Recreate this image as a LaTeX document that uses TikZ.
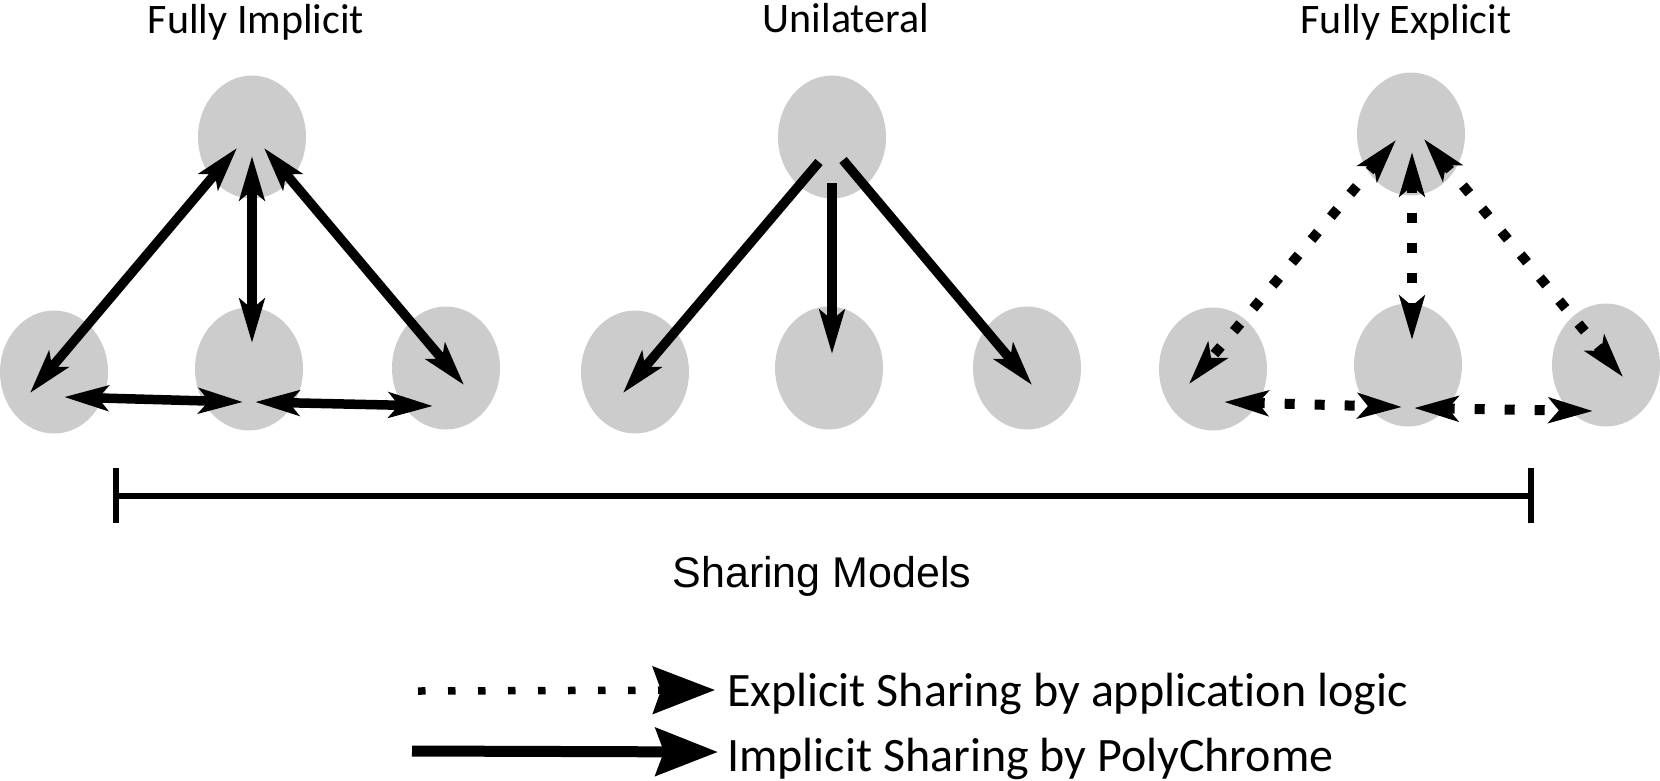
\documentclass[tikz,border=0pt]{standalone}
\usepackage{fontspec}
\setmainfont{Carlito}[Ligatures=NoCommon]
\newfontfamily\arialf{Liberation Sans}
\usetikzlibrary{arrows.meta,shapes.geometric}
\definecolor{blobgray}{RGB}{204,204,204}
\begin{document}
\begin{tikzpicture}[x=1pt,y=-1pt,
  >={Stealth[length=44pt,width=25pt,inset=10pt]},
  blob/.style={ellipse, fill=blobgray, minimum width=108pt, minimum height=123pt, inner sep=0pt},
  ttl/.style={anchor=base, inner sep=0pt, font=\fontsize{42}{50}\selectfont},
  lgd/.style={anchor=base west, inner sep=0pt, font=\fontsize{48}{58}\selectfont},
  implink/.style={line width=9.5pt},
  explink/.style={line width=10pt, dash pattern=on 10pt off 20pt},
  barline/.style={line width=6pt}
]
\useasboundingbox (0,0) rectangle (1660,780);

% titles
\node[ttl] (ttlA) at (256,33) {Fully Implicit};
\node[ttl] (ttlB) at (846,32) {Unilateral};
\node[ttl] (ttlC) at (1406,33) {Fully Explicit};

% Fully Implicit
\node[blob] (fiT) at (252,137) {};
\node[blob] (fiL) at (54,372) {};
\node[blob] (fiM) at (249,369) {};
\node[blob] (fiR) at (446,368) {};
\draw[implink,<->] ([shift={(-15,11)}]fiT.center) -- ([shift={(-24,21)}]fiL.center);
\draw[implink,<->] ([shift={(0,19)}]fiT.center) -- ([shift={(3,-26)}]fiM.center);
\draw[implink,<->] ([shift={(12,11)}]fiT.center) -- ([shift={(18,17)}]fiR.center);
\draw[implink,<->] ([shift={(10,25)}]fiL.center) -- ([shift={(-6,33)}]fiM.center);
\draw[implink,<->] ([shift={(6,33)}]fiM.center) -- ([shift={(-13,38)}]fiR.center);

% Unilateral
\node[blob] (unT) at (832,137) {};
\node[blob] (unL) at (635,372) {};
\node[blob] (unM) at (829,368) {};
\node[blob] (unR) at (1027,368) {};
\draw[implink,->] ([shift={(-13,25)}]unT.center) -- ([shift={(-12,21)}]unL.center);
\draw[implink,->] ([shift={(0,46)}]unT.center) -- ([shift={(3,-14)}]unM.center);
\draw[implink,->] ([shift={(11,23)}]unT.center) -- ([shift={(5,17)}]unR.center);

% Fully Explicit
\node[blob] (feT) at (1411,134) {};
\node[blob] (feL) at (1213,369) {};
\node[blob] (feM) at (1408,365) {};
\node[blob] (feR) at (1606,365) {};
\draw[explink,<->] ([shift={(-15,6)}]feT.center) -- ([shift={(-24,15)}]feL.center);
\draw[explink,<->] ([shift={(1,18)}]feT.center) -- ([shift={(4,-25)}]feM.center);
\draw[explink,<->] ([shift={(13,5)}]feT.center) -- ([shift={(17,12)}]feR.center);
\draw[explink,<->] ([shift={(11,33)}]feL.center) -- ([shift={(-6,42)}]feM.center);
\draw[explink,<->] ([shift={(6,43)}]feM.center) -- ([shift={(-13,46)}]feR.center);

% scale bar
\coordinate (sbL) at (116,496);
\coordinate (sbR) at (1531,496);
\draw[barline] (sbL) -- (sbR);
\draw[barline] (116,468) -- (116,523);
\draw[barline] (1531,468) -- (1531,523);
\node[anchor=base, inner sep=0pt, font=\arialf\fontsize{43}{50}\selectfont] (sm) at (822,587) {Sharing Models};

% legend
\node[lgd] (lgE) at (727,706) {Explicit Sharing by application logic};
\node[lgd] (lgI) at (727,771) {Implicit Sharing by PolyChrome};
\coordinate (leA) at (418,691);
\coordinate (leB) at (715,690);
\coordinate (liA) at (412,751);
\coordinate (liB) at (718,752);
\draw[line width=7.5pt, dash pattern=on 7.5pt off 22.5pt, -{Stealth[length=62pt,width=47pt,inset=8pt]}] (leA) -- (leB);
\draw[line width=11pt, -{Stealth[length=62pt,width=47pt,inset=8pt]}] (liA) -- (liB);
\end{tikzpicture}
\end{document}
